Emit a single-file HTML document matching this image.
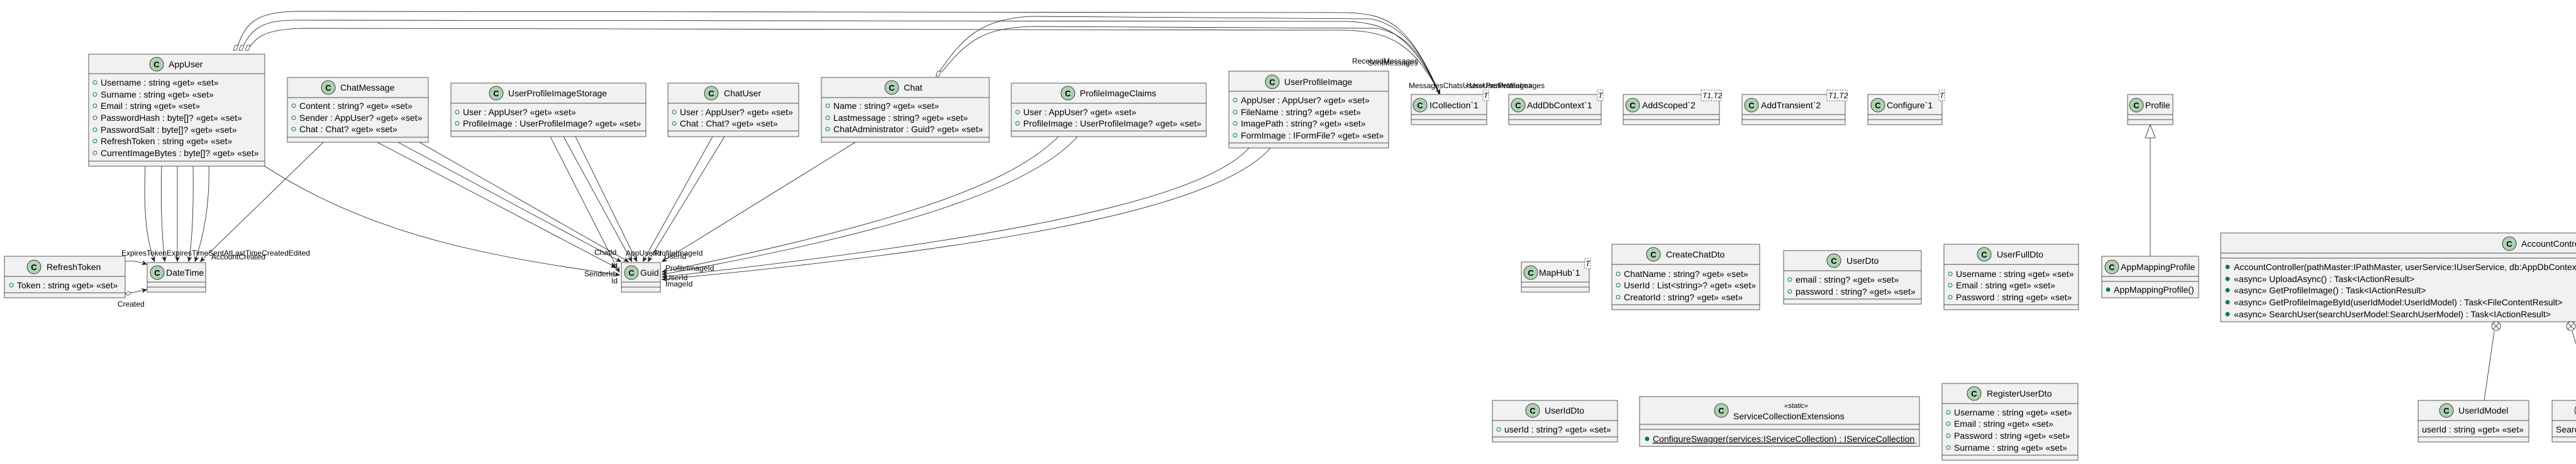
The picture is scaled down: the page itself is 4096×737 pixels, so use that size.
<!DOCTYPE html>
<html><head><meta charset="utf-8"><style>
html,body{margin:0;padding:0;background:#fff;}
svg{display:block}
text{font-family:"Liberation Sans",sans-serif;font-size:13px;fill:#000}
.n{font-size:14px}
.b{fill:#F1F1F1;stroke:#181818;stroke-width:0.7}
.s{stroke:#181818;stroke-width:0.7}
.ic{fill:#ADD1B2;stroke:#181818;stroke-width:0.8}
.ct{font-size:13px;font-weight:bold;text-anchor:middle}
.l{fill:none;stroke:#181818;stroke-width:0.8}
.v{fill:none;stroke:#038048;stroke-width:1}
.vm{fill:#038048;stroke:#038048}
.lb{font-size:12px}
</style></head><body>
<svg width="4096" height="737" viewBox="0 0 4096 737" xmlns="http://www.w3.org/2000/svg">
<defs>
<marker id="a" markerWidth="10" markerHeight="10" refX="9" refY="5" orient="auto" markerUnits="userSpaceOnUse"><path d="M0,1 L9,5 L0,9 L3,5 Z" fill="#181818"/></marker>
</defs>

<!-- top curves -->
<path class="l" d="M375,80 C390,40 400,20 470,18 L2140,20 C2210,22 2240,40 2290,150" marker-end="url(#a)"/>
<path class="l" d="M383,80 C398,50 410,32 470,32 L2140,34 C2210,36 2245,60 2290,150"/>
<path class="l" d="M393,80 C408,58 420,47 480,45 L2140,48 C2210,50 2248,70 2290,150"/>
<path class="l" d="M1493,115 C1530,60 1560,30 1640,26 L2180,30 C2230,40 2260,80 2288,150"/>
<path class="l" d="M1497,115 C1540,62 1565,45 1640,42 L2190,45 C2240,55 2262,90 2288,150"/>
<path d="M371,80 l3,-8 l5,0 l-3,8z M380,80 l3,-8 l5,0 l-3,8z M390,80 l3,-8 l5,0 l-3,8z M1488,121 l3,-8 l5,0 l-3,8z" fill="#fff" stroke="#181818" stroke-width="0.7"/>

<!-- AppUser -> DateTime -->
<path class="l" d="M231,264 C228,330 232,380 246,416" marker-end="url(#a)"/>
<path class="l" d="M257,264 C255,330 258,380 262,416" marker-end="url(#a)"/>
<path class="l" d="M282,264 L282,416" marker-end="url(#a)"/>
<path class="l" d="M307,264 C308,330 306,380 300,416" marker-end="url(#a)"/>
<path class="l" d="M332,264 C334,330 322,380 310,416" marker-end="url(#a)"/>
<path class="l" d="M514,226 L318,416" marker-end="url(#a)"/>
<path class="l" d="M421,264 C600,380 800,410 986,437" marker-end="url(#a)"/>
<!-- RefreshToken -> DateTime -->
<path class="l" d="M199,415 C215,414 222,416 234,420" marker-end="url(#a)"/>
<path class="l" d="M209,465 L234,460" marker-end="url(#a)"/>
<path d="M199,467 l5,-4 l5,2 l-5,4z" fill="#fff" stroke="#181818" stroke-width="0.7"/>
<!-- to Guid -->
<path class="l" d="M600,226 L980,425" marker-end="url(#a)"/>
<path class="l" d="M633,226 L988,416" marker-end="url(#a)"/>
<path class="l" d="M667,226 L1000,416" marker-end="url(#a)"/>
<path class="l" d="M875,217 L985,433" marker-end="url(#a)"/>
<path class="l" d="M896,217 L1005,416" marker-end="url(#a)"/>
<path class="l" d="M915,217 L1013,416" marker-end="url(#a)"/>
<path class="l" d="M1133,217 L1022,416" marker-end="url(#a)"/>
<path class="l" d="M1152,217 L1030,416" marker-end="url(#a)"/>
<path class="l" d="M1360,226 L1052,416" marker-end="url(#a)"/>
<path class="l" d="M1683,217 C1600,300 1400,360 1052,432" marker-end="url(#a)"/>
<path class="l" d="M1713,217 C1640,300 1420,370 1052,436" marker-end="url(#a)"/>
<path class="l" d="M1986,235 C1900,330 1500,390 1052,440" marker-end="url(#a)"/>
<path class="l" d="M2020,235 C1930,340 1520,400 1052,444" marker-end="url(#a)"/>
<!-- Profile inheritance -->
<line class="l" x1="3419" y1="407" x2="3419" y2="219"/>
<path d="M3419,198 L3427,219 L3411,219 Z" fill="#fff" stroke="#181818" stroke-width="0.8"/>
<!-- AccountController nested -->
<line class="l" x1="3966" y1="526" x2="3950" y2="636"/>
<circle cx="3969" cy="518" r="7" fill="#fff" stroke="#181818" stroke-width="0.8"/>
<path class="l" d="M3964,513 l10,10 M3974,513 l-10,10"/>
<circle cx="4088" cy="518" r="7" fill="#fff" stroke="#181818" stroke-width="0.8"/>
<path class="l" d="M4083,513 l10,10 M4093,513 l-10,10 M4090,526 l6,20"/>

<!-- labels -->
<text class="lb" x="193" y="406">ExpiresTokenExpiresTimeSentAtLastTimeCreatedEdited</text>
<text class="lb" x="336" y="412">AccountCreated</text>
<text class="lb" x="187" y="487">Created</text>
<text class="lb" x="945" y="405">ChatId</text>
<text class="lb" x="995" y="406">AppUserId</text>
<text class="lb" x="1040" y="406">ProfileImageId</text>
<text class="lb" x="1056" y="411">UserId</text>
<text class="lb" x="972" y="426">Id</text>
<text class="lb" x="929" y="439">SenderId</text>
<text class="lb" x="972" y="450">Id</text>
<text class="lb" x="1058" y="430">ProfileImageId</text>
<text class="lb" x="1058" y="445">UserId</text>
<text class="lb" x="1058" y="455">ImageId</text>
<text class="lb" x="2150" y="101">ReceivedMessages<ChatMessage></text>
<text class="lb" x="2175" y="104">SentMessages</text>
<text class="lb" x="2240" y="140">MessagesChatsUsersUserProfileImages</text>
<text class="lb" x="2330" y="140">&lt;UserProfileImage&gt;</text>

<!-- AppUser -->
<rect class="b" x="141" y="86" width="280" height="178"/>
<line class="s" x1="141" y1="117" x2="421" y2="117"/><line class="s" x1="141" y1="256" x2="421" y2="256"/>
<circle class="ic" cx="249" cy="102" r="11"/><text class="ct" x="249" y="107">C</text>
<text class="n" x="268" y="107">AppUser</text>
<g><circle class="v" cx="151" cy="131" r="3"/><text class="n" x="160" y="136">Username : string «get» «set»</text>
<circle class="v" cx="151" cy="150" r="3"/><text class="n" x="160" y="155">Surname : string «get» «set»</text>
<circle class="v" cx="151" cy="168" r="3"/><text class="n" x="160" y="173">Email : string «get» «set»</text>
<circle class="v" cx="151" cy="187" r="3"/><text class="n" x="160" y="192">PasswordHash : byte[]? «get» «set»</text>
<circle class="v" cx="151" cy="206" r="3"/><text class="n" x="160" y="211">PasswordSalt : byte[]? «get» «set»</text>
<circle class="v" cx="151" cy="224" r="3"/><text class="n" x="160" y="229">RefreshToken : string «get» «set»</text>
<circle class="v" cx="151" cy="243" r="3"/><text class="n" x="160" y="248">CurrentImageBytes : byte[]? «get» «set»</text></g>

<!-- ChatMessage -->
<rect class="b" x="457" y="123" width="224" height="103"/>
<line class="s" x1="457" y1="155" x2="681" y2="155"/><line class="s" x1="457" y1="218" x2="681" y2="218"/>
<circle class="ic" cx="522" cy="139" r="11"/><text class="ct" x="522" y="144">C</text>
<text class="n" x="541" y="144">ChatMessage</text>
<circle class="v" cx="467" cy="168" r="3"/><text class="n" x="476" y="173">Content : string? «get» «set»</text>
<circle class="v" cx="467" cy="187" r="3"/><text class="n" x="476" y="192">Sender : AppUser? «get» «set»</text>
<circle class="v" cx="467" cy="205" r="3"/><text class="n" x="476" y="210">Chat : Chat? «get» «set»</text>

<!-- UserProfileImageStorage -->
<rect class="b" x="717" y="132" width="310" height="85"/>
<line class="s" x1="717" y1="164" x2="1027" y2="164"/><line class="s" x1="717" y1="208" x2="1027" y2="208"/>
<circle class="ic" cx="789" cy="148" r="11"/><text class="ct" x="789" y="153">C</text>
<text class="n" x="808" y="153">UserProfileImageStorage</text>
<circle class="v" cx="727" cy="178" r="3"/><text class="n" x="736" y="183">User : AppUser? «get» «set»</text>
<circle class="v" cx="727" cy="196" r="3"/><text class="n" x="736" y="201">ProfileImage : UserProfileImage? «get» «set»</text>

<!-- ChatUser -->
<rect class="b" x="1062" y="132" width="208" height="85"/>
<line class="s" x1="1062" y1="164" x2="1270" y2="164"/><line class="s" x1="1062" y1="208" x2="1270" y2="208"/>
<circle class="ic" cx="1131" cy="148" r="11"/><text class="ct" x="1131" y="153">C</text>
<text class="n" x="1151" y="153">ChatUser</text>
<circle class="v" cx="1072" cy="178" r="3"/><text class="n" x="1081" y="183">User : AppUser? «get» «set»</text>
<circle class="v" cx="1072" cy="196" r="3"/><text class="n" x="1081" y="201">Chat : Chat? «get» «set»</text>

<!-- Chat -->
<rect class="b" x="1306" y="123" width="267" height="103"/>
<line class="s" x1="1306" y1="155" x2="1573" y2="155"/><line class="s" x1="1306" y1="218" x2="1573" y2="218"/>
<circle class="ic" cx="1418" cy="139" r="11"/><text class="ct" x="1418" y="144">C</text>
<text class="n" x="1437" y="144">Chat</text>
<circle class="v" cx="1316" cy="168" r="3"/><text class="n" x="1325" y="173">Name : string? «get» «set»</text>
<circle class="v" cx="1316" cy="187" r="3"/><text class="n" x="1325" y="192">Lastmessage : string? «get» «set»</text>
<circle class="v" cx="1316" cy="205" r="3"/><text class="n" x="1325" y="210">ChatAdministrator : Guid? «get» «set»</text>

<!-- ProfileImageClaims -->
<rect class="b" x="1608" y="132" width="310" height="85"/>
<line class="s" x1="1608" y1="164" x2="1918" y2="164"/><line class="s" x1="1608" y1="208" x2="1918" y2="208"/>
<circle class="ic" cx="1698" cy="148" r="11"/><text class="ct" x="1698" y="153">C</text>
<text class="n" x="1717" y="153">ProfileImageClaims</text>
<circle class="v" cx="1618" cy="178" r="3"/><text class="n" x="1627" y="183">User : AppUser? «get» «set»</text>
<circle class="v" cx="1618" cy="196" r="3"/><text class="n" x="1627" y="201">ProfileImage : UserProfileImage? «get» «set»</text>

<!-- UserProfileImage -->
<rect class="b" x="1954" y="113" width="254" height="122"/>
<line class="s" x1="1954" y1="145" x2="2208" y2="145"/><line class="s" x1="1954" y1="227" x2="2208" y2="227"/>
<circle class="ic" cx="2023" cy="130" r="11"/><text class="ct" x="2023" y="135">C</text>
<text class="n" x="2042" y="135">UserProfileImage</text>
<circle class="v" cx="1964" cy="159" r="3"/><text class="n" x="1973" y="164">AppUser : AppUser? «get» «set»</text>
<circle class="v" cx="1964" cy="178" r="3"/><text class="n" x="1973" y="183">FileName : string? «get» «set»</text>
<circle class="v" cx="1964" cy="196" r="3"/><text class="n" x="1973" y="201">ImagePath : string? «get» «set»</text>
<circle class="v" cx="1964" cy="215" r="3"/><text class="n" x="1973" y="220">FormImage : IFormFile? «get» «set»</text>

<!-- Generic classes -->
<g>
<rect class="b" x="2244" y="150" width="120" height="48"/><line class="s" x1="2244" y1="182" x2="2364" y2="182"/><line class="s" x1="2244" y1="190" x2="2364" y2="190"/>
<circle class="ic" cx="2258" cy="167" r="11"/><text class="ct" x="2258" y="172">C</text><text class="n" x="2273" y="172">ICollection`1</text>
<rect x="2358" y="143" width="9" height="17" fill="#fff" stroke="#181818" stroke-width="0.7" stroke-dasharray="2,2"/><text x="2359" y="156" font-style="italic" style="font-size:12px">T</text>

<rect class="b" x="2399" y="150" width="147" height="48"/><line class="s" x1="2399" y1="182" x2="2546" y2="182"/><line class="s" x1="2399" y1="190" x2="2546" y2="190"/>
<circle class="ic" cx="2414" cy="167" r="11"/><text class="ct" x="2414" y="172">C</text><text class="n" x="2428" y="172">AddDbContext`1</text>
<rect x="2540" y="143" width="9" height="17" fill="#fff" stroke="#181818" stroke-width="0.7" stroke-dasharray="2,2"/><text x="2541" y="156" font-style="italic" style="font-size:12px">T</text>

<rect class="b" x="2581" y="150" width="153" height="48"/><line class="s" x1="2581" y1="182" x2="2734" y2="182"/><line class="s" x1="2581" y1="190" x2="2734" y2="190"/>
<circle class="ic" cx="2596" cy="167" r="11"/><text class="ct" x="2596" y="172">C</text><text class="n" x="2611" y="172">AddScoped`2</text>
<rect x="2705" y="143" width="32" height="17" fill="#fff" stroke="#181818" stroke-width="0.7" stroke-dasharray="2,2"/><text x="2707" y="156" font-style="italic" style="font-size:12px">T1,T2</text>

<rect class="b" x="2770" y="150" width="164" height="48"/><line class="s" x1="2770" y1="182" x2="2934" y2="182"/><line class="s" x1="2770" y1="190" x2="2934" y2="190"/>
<circle class="ic" cx="2785" cy="167" r="11"/><text class="ct" x="2785" y="172">C</text><text class="n" x="2800" y="172">AddTransient`2</text>
<rect x="2905" y="143" width="32" height="17" fill="#fff" stroke="#181818" stroke-width="0.7" stroke-dasharray="2,2"/><text x="2907" y="156" font-style="italic" style="font-size:12px">T1,T2</text>

<rect class="b" x="2970" y="150" width="118" height="48"/><line class="s" x1="2970" y1="182" x2="3088" y2="182"/><line class="s" x1="2970" y1="190" x2="3088" y2="190"/>
<circle class="ic" cx="2986" cy="167" r="11"/><text class="ct" x="2986" y="172">C</text><text class="n" x="3000" y="172">Configure`1</text>
<rect x="3083" y="143" width="9" height="17" fill="#fff" stroke="#181818" stroke-width="0.7" stroke-dasharray="2,2"/><text x="3084" y="156" font-style="italic" style="font-size:12px">T</text>

<rect class="b" x="3383" y="150" width="72" height="48"/><line class="s" x1="3383" y1="182" x2="3455" y2="182"/><line class="s" x1="3383" y1="190" x2="3455" y2="190"/>
<circle class="ic" cx="3397" cy="167" r="11"/><text class="ct" x="3397" y="172">C</text><text class="n" x="3411" y="172">Profile</text>
</g>

<!-- RefreshToken -->
<rect class="b" x="7" y="407" width="192" height="66"/>
<line class="s" x1="7" y1="439" x2="199" y2="439"/><line class="s" x1="7" y1="465" x2="199" y2="465"/>
<circle class="ic" cx="54" cy="424" r="11"/><text class="ct" x="54" y="429">C</text>
<text class="n" x="74" y="429">RefreshToken</text>
<circle class="v" cx="18" cy="453" r="3"/><text class="n" x="27" y="458">Token : string «get» «set»</text>

<!-- DateTime -->
<rect class="b" x="234" y="417" width="93" height="47"/>
<line class="s" x1="234" y1="448" x2="327" y2="448"/><line class="s" x1="234" y1="456" x2="327" y2="456"/>
<circle class="ic" cx="250" cy="433" r="11"/><text class="ct" x="250" y="438">C</text><text class="n" x="264" y="438">DateTime</text>

<!-- Guid -->
<rect class="b" x="988" y="417" width="62" height="47"/>
<line class="s" x1="988" y1="448" x2="1050" y2="448"/><line class="s" x1="988" y1="456" x2="1050" y2="456"/>
<circle class="ic" cx="1004" cy="433" r="11"/><text class="ct" x="1004" y="438">C</text><text class="n" x="1018" y="438">Guid</text>

<!-- MapHub -->
<rect class="b" x="2419" y="416" width="108" height="48"/>
<line class="s" x1="2419" y1="448" x2="2527" y2="448"/><line class="s" x1="2419" y1="456" x2="2527" y2="456"/>
<circle class="ic" cx="2434" cy="433" r="11"/><text class="ct" x="2434" y="438">C</text><text class="n" x="2447" y="438">MapHub`1</text>
<rect x="2520" y="410" width="9" height="17" fill="#fff" stroke="#181818" stroke-width="0.7" stroke-dasharray="2,2"/><text x="2521" y="423" font-style="italic" style="font-size:12px">T</text>

<!-- CreateChatDto -->
<rect class="b" x="2563" y="388" width="235" height="104"/>
<line class="s" x1="2563" y1="420" x2="2798" y2="420"/><line class="s" x1="2563" y1="484" x2="2798" y2="484"/>
<circle class="ic" cx="2629" cy="404" r="11"/><text class="ct" x="2629" y="409">C</text><text class="n" x="2649" y="409">CreateChatDto</text>
<circle class="v" cx="2573" cy="435" r="3"/><text class="n" x="2582" y="440">ChatName : string? «get» «set»</text>
<circle class="v" cx="2573" cy="453" r="3"/><text class="n" x="2582" y="458">UserId : List&lt;string&gt;? «get» «set»</text>
<circle class="v" cx="2573" cy="472" r="3"/><text class="n" x="2582" y="477">CreatorId : string? «get» «set»</text>

<!-- UserDto -->
<rect class="b" x="2836" y="398" width="219" height="85"/>
<line class="s" x1="2836" y1="430" x2="3055" y2="430"/><line class="s" x1="2836" y1="475" x2="3055" y2="475"/>
<circle class="ic" cx="2916" cy="414" r="11"/><text class="ct" x="2916" y="419">C</text><text class="n" x="2936" y="419">UserDto</text>
<circle class="v" cx="2846" cy="444" r="3"/><text class="n" x="2855" y="449">email : string? «get» «set»</text>
<circle class="v" cx="2846" cy="463" r="3"/><text class="n" x="2855" y="468">password : string? «get» «set»</text>

<!-- UserFullDto -->
<rect class="b" x="3091" y="388" width="214" height="104"/>
<line class="s" x1="3091" y1="420" x2="3305" y2="420"/><line class="s" x1="3091" y1="484" x2="3305" y2="484"/>
<circle class="ic" cx="3155" cy="404" r="11"/><text class="ct" x="3155" y="409">C</text><text class="n" x="3175" y="409">UserFullDto</text>
<circle class="v" cx="3101" cy="435" r="3"/><text class="n" x="3110" y="440">Username : string «get» «set»</text>
<circle class="v" cx="3101" cy="453" r="3"/><text class="n" x="3110" y="458">Email : string «get» «set»</text>
<circle class="v" cx="3101" cy="472" r="3"/><text class="n" x="3110" y="477">Password : string «get» «set»</text>

<!-- AppMappingProfile -->
<rect class="b" x="3342" y="407" width="154" height="66"/>
<line class="s" x1="3342" y1="439" x2="3496" y2="439"/><line class="s" x1="3342" y1="447" x2="3496" y2="447"/>
<circle class="ic" cx="3358" cy="424" r="11"/><text class="ct" x="3358" y="429">C</text><text class="n" x="3372" y="429">AppMappingProfile</text>
<circle class="vm" cx="3352" cy="460" r="3"/><text class="n" x="3361" y="465">AppMappingProfile()</text>

<!-- AccountController -->
<rect class="b" x="3531" y="370" width="1100" height="141"/>
<line class="s" x1="3531" y1="402" x2="4631" y2="402"/><line class="s" x1="3531" y1="410" x2="4631" y2="410"/>
<circle class="ic" cx="3990" cy="387" r="11"/><text class="ct" x="3990" y="392">C</text><text class="n" x="4009" y="392">AccountController</text>
<circle class="vm" cx="3542" cy="424" r="3"/><text class="n" x="3552" y="429">AccountController(pathMaster:IPathMaster, userService:IUserService, db:AppDbContext)</text>
<circle class="vm" cx="3542" cy="443" r="3"/><text class="n" x="3552" y="448">«async» UploadAsync() : Task&lt;IActionResult&gt;</text>
<circle class="vm" cx="3542" cy="461" r="3"/><text class="n" x="3552" y="466">«async» GetProfileImage() : Task&lt;IActionResult&gt;</text>
<circle class="vm" cx="3542" cy="480" r="3"/><text class="n" x="3552" y="485">«async» GetProfileImageById(userIdModel:UserIdModel) : Task&lt;FileContentResult&gt;</text>
<circle class="vm" cx="3542" cy="499" r="3"/><text class="n" x="3552" y="504">«async» SearchUser(searchUserModel:SearchUserModel) : Task&lt;IActionResult&gt;</text>

<!-- UserIdDto -->
<rect class="b" x="2373" y="636" width="199" height="66"/>
<line class="s" x1="2373" y1="668" x2="2572" y2="668"/><line class="s" x1="2373" y1="694" x2="2572" y2="694"/>
<circle class="ic" cx="2437" cy="652" r="11"/><text class="ct" x="2437" y="657">C</text><text class="n" x="2456" y="657">UserIdDto</text>
<circle class="v" cx="2383" cy="682" r="3"/><text class="n" x="2392" y="687">userId : string? «get» «set»</text>

<!-- ServiceCollectionExtensions -->
<rect class="b" x="2607" y="630" width="445" height="79"/>
<line class="s" x1="2607" y1="674" x2="3052" y2="674"/><line class="s" x1="2607" y1="682" x2="3052" y2="682"/>
<circle class="ic" cx="2737" cy="652" r="11"/><text class="ct" x="2737" y="657">C</text>
<text x="2837" y="648" font-style="italic" style="font-size:11px">«static»</text>
<text class="n" x="2756" y="666">ServiceCollectionExtensions</text>
<circle class="vm" cx="2619" cy="697" r="3"/><text class="n" x="2628" y="702" text-decoration="underline">ConfigureSwagger(services:IServiceCollection) : IServiceCollection</text>
<line class="s" x1="2628" y1="704" x2="3048" y2="704"/>

<!-- RegisterUserDto -->
<rect class="b" x="3088" y="609" width="216" height="122"/>
<line class="s" x1="3088" y1="641" x2="3304" y2="641"/><line class="s" x1="3088" y1="723" x2="3304" y2="723"/>
<circle class="ic" cx="3139" cy="625" r="11"/><text class="ct" x="3139" y="630">C</text><text class="n" x="3159" y="630">RegisterUserDto</text>
<circle class="v" cx="3098" cy="655" r="3"/><text class="n" x="3107" y="660">Username : string «get» «set»</text>
<circle class="v" cx="3098" cy="673" r="3"/><text class="n" x="3107" y="678">Email : string «get» «set»</text>
<circle class="v" cx="3098" cy="692" r="3"/><text class="n" x="3107" y="697">Password : string «get» «set»</text>
<circle class="v" cx="3098" cy="711" r="3"/><text class="n" x="3107" y="716">Surname : string «get» «set»</text>

<!-- UserIdModel -->
<rect class="b" x="3845" y="636" width="176" height="66"/>
<line class="s" x1="3845" y1="668" x2="4021" y2="668"/><line class="s" x1="3845" y1="694" x2="4021" y2="694"/>
<circle class="ic" cx="3890" cy="652" r="11"/><text class="ct" x="3890" y="657">C</text><text class="n" x="3909" y="657">UserIdModel</text>
<text class="n" x="3851" y="687">userId : string «get» «set»</text>

<!-- SearchUserModel (clipped) -->
<rect class="b" x="4058" y="636" width="200" height="66"/>
<line class="s" x1="4058" y1="668" x2="4258" y2="668"/><line class="s" x1="4058" y1="694" x2="4258" y2="694"/>
<circle class="ic" cx="4105" cy="652" r="11"/>
<text class="n" x="4064" y="687">SearchUserModel : string</text>
</svg>
</body></html>
